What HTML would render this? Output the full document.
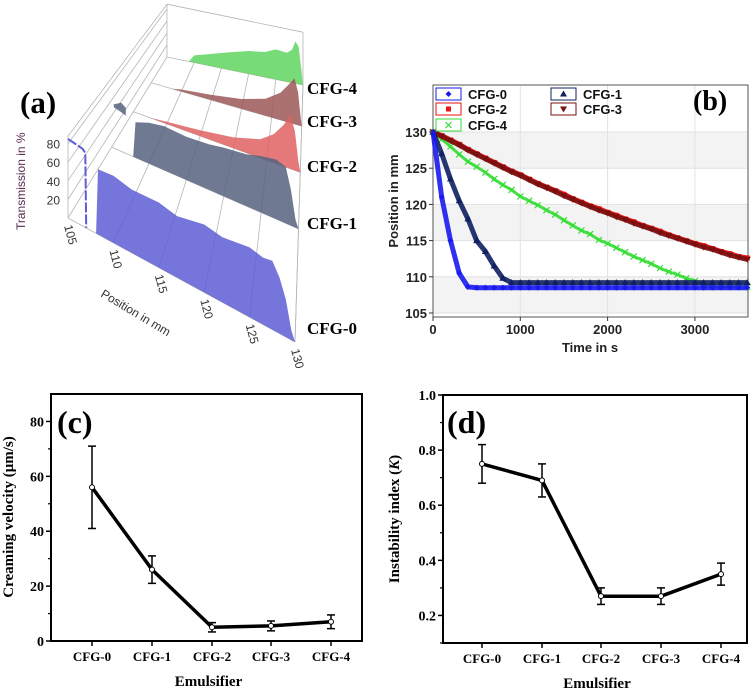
<!DOCTYPE html>
<html><head><meta charset="utf-8"><style>
html,body{margin:0;padding:0;background:#fff;}
svg{display:block;}
.serif{font-family:"Liberation Serif",serif;font-weight:bold;}
.sans{font-family:"Liberation Sans",sans-serif;font-weight:bold;}
</style></head><body>
<svg id="fig" width="756" height="691" viewBox="0 0 756 691" xmlns="http://www.w3.org/2000/svg">
<g id="pa"></g>
<g id="pb"></g>
<g id="pc"></g>
<g id="pd"></g>
</svg>
<script>
// ---------- Panel (b) data ----------
var bTimes=[0,100,200,300,400,500,600,700,800,900,1000,1100,1200,1300,1400,1500,1600,1700,1800,1900,2000,2100,2200,2300,2400,2500,2600,2700,2800,2900,3000,3100,3200,3300,3400,3500,3600];
var bCFG0=[130,121,115,110.5,108.6,108.5,108.5,108.5,108.5,108.5,108.5,108.5,108.5,108.5,108.5,108.5,108.5,108.5,108.5,108.5,108.5,108.5,108.5,108.5,108.5,108.5,108.5,108.5,108.5,108.5,108.5,108.5,108.5,108.5,108.5,108.5,108.5];
var bCFG1=[130,127,123.5,120.5,118,115,113.5,111.5,109.8,109.2,109.2,109.2,109.2,109.2,109.2,109.2,109.2,109.2,109.2,109.2,109.2,109.2,109.2,109.2,109.2,109.2,109.2,109.2,109.2,109.2,109.2,109.2,109.2,109.2,109.2,109.2,109.2];
var bCFG2=[130,129.5,128.9,128.3,127.6,127,126.4,125.8,125.2,124.6,124.1,123.5,122.9,122.4,121.9,121.4,120.8,120.3,119.8,119.4,118.9,118.5,118,117.6,117.1,116.7,116.3,115.8,115.4,115,114.6,114.3,113.9,113.5,113.2,112.8,112.6];
var bCFG3=[130,129.4,128.8,128.2,127.5,126.9,126.3,125.7,125.1,124.5,124,123.4,122.8,122.3,121.8,121.2,120.7,120.2,119.7,119.2,118.8,118.3,117.9,117.4,117,116.6,116.1,115.7,115.3,114.9,114.5,114.1,113.8,113.4,113,112.7,112.4];
var bCFG4=[130,129,128,126.9,125.9,125.2,124.4,123.5,122.7,122,121.1,120.5,119.9,119.2,118.6,117.8,117.1,116.4,115.9,115.1,114.6,114,113.4,112.8,112.3,111.8,111.2,110.7,110.3,109.8,109.4,109,108.6,108.6,108.6,108.6,108.6];
var bYTicks=[105,110,115,120,125,130];
var bXTicks=[0,1000,2000,3000];
// ---------- Panel (c)/(d) data ----------
var categories=["CFG-0","CFG-1","CFG-2","CFG-3","CFG-4"];
var cVel=[56,26,5,5.5,7];
var cErr=[15,5,1.7,1.8,2.5];
var cYTicks=[0,20,40,60,80];
var dIdx=[0.75,0.69,0.27,0.27,0.35];
var dErr=[0.07,0.06,0.03,0.03,0.04];
var dYTicks=[0.2,0.4,0.6,0.8,1.0];
// ---------- Panel (a) data ----------
var aPos0=[108.1,108.3,110,112,115,117,120,122,125,126.5,127.5,128.3,129,129.6,130];
var aT0=[0,70,72,68,70,66,73,70,75,72,74,60,40,10,0];
var aEarlyPos0=[105,106.6,106.9,107.0];
var aEarlyT0=[85,83,80,0];
var aPos1=[107.9,108.2,110,112,115,118,120,123,125,127,128.3,129,129.6,130];
var aT1=[0,45,52,56,55,58,62,66,72,76,72,45,10,0];
var aEarlyPos1=[105.3,106.3,106.9];
var aEarlyLow1=[52,50,48];
var aEarlyHigh1=[56,62,58];
var aPos2=[107.5,110,115,120,124,126,127.5,128.5,129.2,129.7,130];
var aT2=[0,3,8,15,26,40,58,75,55,15,0];
var aPos3=[108.5,110,115,120,124,126.5,128,128.8,129.4,129.8,130];
var aT3=[0,3,8,15,26,42,60,70,50,15,0];
var aPos4=[109,110,113,116,120,123,125,127,128,128.6,129.2,129.7,130];
var aT4=[0,12,20,28,38,42,50,48,55,70,62,25,0];
var aDepth=[0,0.44,0.66,0.84,1];
var aPosTicks=[105,110,115,120,125,130];
var aTrTicks=[20,40,60,80];

var NS="http://www.w3.org/2000/svg";
function mk(parent,tag,attrs,name,txt){var e=document.createElementNS(NS,tag);for(var k in attrs)e.setAttribute(k,attrs[k]);


if(txt!==undefined)e.textContent=txt;parent.appendChild(e);return e;}

// ================= Panel (a) =================
(function(){
var g=document.getElementById('pa');
function P(pos,t,h){var u=(pos-105)/25;var lx=68+99*t,ly=218-161*t,rx=295+8*t,ry=342-257*t;
var s=0.93*(1-t)+0.6*t;return [lx+(rx-lx)*u,ly+(ry-ly)*u-h*s];}
function L(a,b,name){mk(g,'line',{x1:a[0],y1:a[1],x2:b[0],y2:b[1],stroke:'#b5b5b5','stroke-width':0.8},name);}
function ptsStr(pts){return pts.map(function(p){return p[0].toFixed(1)+','+p[1].toFixed(1);}).join(' ');}
for(var i=0;i<aPosTicks.length;i++)L(P(aPosTicks[i],0,0),P(aPosTicks[i],1,0),'floor-grid-line');
L(P(105,0,0),P(105,0,88),'left-wall-edge');
for(i=0;i<aTrTicks.length;i++)L(P(105,0,aTrTicks[i]),P(105,1,aTrTicks[i]),'left-wall-grid');
L(P(105,0,88),P(105,1,88),'left-wall-top');
L(P(105,1,0),P(105,1,88),'back-wall-edge');
L(P(105,1,88),P(130,1,88),'back-wall-top');
L(P(130,1,0),P(130,1,88),'back-right-edge');
for(i=0;i<aDepth.length;i++)L(P(105,aDepth[i],0),P(130,aDepth[i],0),'baseline');
L(P(130,0,0),P(130,1,0),'right-floor-edge');
var ser=[[aPos4,aT4,'#5fd65f','CFG-4'],[aPos3,aT3,'#9c5757','CFG-3'],[aPos2,aT2,'#e06262','CFG-2'],[aPos1,aT1,'#56627e','CFG-1'],[aPos0,aT0,'#5d5dd6','CFG-0']];
var depths=[aDepth[4],aDepth[3],aDepth[2],aDepth[1],aDepth[0]];
for(var s=0;s<ser.length;s++){var ps=ser[s][0],ts=ser[s][1],t=depths[s];
var pts=[P(ps[0],t,0)];for(var k=0;k<ps.length;k++)pts.push(P(ps[k],t,ts[k]));pts.push(P(ps[ps.length-1],t,0));
mk(g,'polygon',{points:ptsStr(pts),fill:ser[s][2],'fill-opacity':0.85},'transmission-profile-'+ser[s][3].toLowerCase());}
// early fragments
var e1=[];for(k=0;k<aEarlyPos1.length;k++)e1.push(P(aEarlyPos1[k],aDepth[1],aEarlyHigh1[k]));
for(k=aEarlyPos1.length-1;k>=0;k--)e1.push(P(aEarlyPos1[k],aDepth[1],aEarlyLow1[k]));
mk(g,'polygon',{points:ptsStr(e1),fill:'#56627e','fill-opacity':0.85},'early-fragment-cfg-1');
var e0=[];for(k=0;k<aEarlyPos0.length;k++)e0.push(P(aEarlyPos0[k],0,aEarlyT0[k]));
mk(g,'polyline',{points:ptsStr(e0),fill:'none',stroke:'#5d5dd6','stroke-width':2,'stroke-dasharray':'10 2'},'early-fragment-cfg-0');
// tick labels
for(i=0;i<aTrTicks.length;i++){var p=P(105,0,aTrTicks[i]);mk(g,'text',{x:p[0]-8,y:p[1]+5,'text-anchor':'end','font-size':12,fill:'#333','font-family':'Liberation Sans,sans-serif'},'transmission-tick-label',String(aTrTicks[i]));}
for(i=0;i<aPosTicks.length;i++){var p=P(aPosTicks[i],0,0);var x=p[0]-4,y=p[1]+8;
mk(g,'text',{x:x,y:y,transform:'rotate(75 '+x+' '+y+')','font-size':12,fill:'#333','font-family':'Liberation Sans,sans-serif'},'position-tick-label',String(aPosTicks[i]));}
mk(g,'text',{x:100,y:296,transform:'rotate(31 100 296)','font-size':12,fill:'#333','font-family':'Liberation Sans,sans-serif'},'position-axis-title','Position in mm');
mk(g,'text',{x:25,y:230,transform:'rotate(-90 25 230)','font-size':12,fill:'#5a2a50','font-family':'Liberation Sans,sans-serif'},'transmission-axis-title','Transmission in %');
var lab=[['CFG-4',94],['CFG-3',127],['CFG-2',172],['CFG-1',229],['CFG-0',334]];
for(i=0;i<lab.length;i++)mk(g,'text',{x:307,y:lab[i][1],'font-size':17,class:'serif'},'series-label-'+lab[i][0].toLowerCase(),lab[i][0]);
mk(g,'text',{x:20,y:113,'font-size':31,class:'serif'},'panel-label-a','(a)');
})();

// ================= Panel (b) =================
(function(){
var g=document.getElementById('pb');
var X0=433,X1=748,Y0=85,Y1=317;
function xs(t){return X0+t*0.0873;} function ys(v){return 132+(130-v)*7.24;}
mk(g,'rect',{x:X0,y:Y0,width:X1-X0,height:Y1-Y0,fill:'#fff'},'plot-area');
var bands=[[125,130],[115,120],[105,110]];
for(var i=0;i<bands.length;i++)mk(g,'rect',{x:X0,y:ys(bands[i][1]),width:X1-X0,height:ys(bands[i][0])-ys(bands[i][1]),fill:'#f3f3f3'},'background-band');
for(i=0;i<bYTicks.length;i++)mk(g,'line',{x1:X0,x2:X1,y1:ys(bYTicks[i]),y2:ys(bYTicks[i]),stroke:'#e2e2e2'},'y-gridline');
for(i=1;i<bXTicks.length;i++)mk(g,'line',{x1:xs(bXTicks[i]),x2:xs(bXTicks[i]),y1:Y0,y2:Y1,stroke:'#e2e2e2'},'x-gridline');
mk(g,'rect',{x:X0,y:Y0,width:X1-X0,height:Y1-Y0,fill:'none',stroke:'#555','stroke-width':1},'plot-frame');
function marker(type,x,y,c){
 if(type==='d')return mk(g,'path',{d:'M'+x+' '+(y-3)+'L'+(x+3)+' '+y+'L'+x+' '+(y+3)+'L'+(x-3)+' '+y+'Z',fill:c},'marker');
 if(type==='s')return mk(g,'rect',{x:x-2.5,y:y-2.5,width:5,height:5,fill:c},'marker');
 if(type==='t')return mk(g,'path',{d:'M'+x+' '+(y-3.5)+'L'+(x+3.5)+' '+(y+2.5)+'L'+(x-3.5)+' '+(y+2.5)+'Z',fill:c},'marker');
 if(type==='v')return mk(g,'path',{d:'M'+x+' '+(y+3.5)+'L'+(x+3.5)+' '+(y-2.5)+'L'+(x-3.5)+' '+(y-2.5)+'Z',fill:c},'marker');
 return mk(g,'path',{d:'M'+(x-3)+' '+(y-3)+'L'+(x+3)+' '+(y+3)+'M'+(x+3)+' '+(y-3)+'L'+(x-3)+' '+(y+3),stroke:c,'stroke-width':1.2,fill:'none'},'marker');
}
var series=[[bCFG4,'#33dd33','x','cfg-4'],[bCFG2,'#ee1111','s','cfg-2'],[bCFG3,'#7a0f0f','v','cfg-3'],[bCFG1,'#102060','t','cfg-1'],[bCFG0,'#1a1aee','d','cfg-0']];
for(var s=0;s<series.length;s++){var v=series[s][0],pts=[];
 for(var k=0;k<bTimes.length;k++)pts.push(xs(bTimes[k]).toFixed(1)+','+ys(v[k]).toFixed(1));
 mk(g,'polyline',{points:pts.join(' '),fill:'none',stroke:series[s][1],'stroke-width':series[s][2]==='x'?3:5,'stroke-opacity':0.9},'series-line-'+series[s][3]);
 for(k=0;k<bTimes.length;k++)marker(series[s][2],xs(bTimes[k]),ys(v[k]),series[s][1]);}
for(i=0;i<bYTicks.length;i++){var y=ys(bYTicks[i]);mk(g,'line',{x1:X0-4,x2:X0,y1:y,y2:y,stroke:'#333'},'y-tick');
 mk(g,'text',{x:X0-6,y:y+5,'text-anchor':'end','font-size':13,class:'sans',fill:'#222'},'y-tick-label',String(bYTicks[i]));}
for(i=0;i<bXTicks.length;i++){var x=xs(bXTicks[i]);mk(g,'line',{x1:x,x2:x,y1:Y1,y2:Y1+4,stroke:'#333'},'x-tick');
 mk(g,'text',{x:x,y:Y1+17,'text-anchor':'middle','font-size':13,class:'sans',fill:'#222'},'x-tick-label',String(bXTicks[i]));}
mk(g,'text',{x:590,y:352,'text-anchor':'middle','font-size':13,class:'sans',fill:'#222'},'x-axis-title','Time in s');
mk(g,'text',{x:398,y:201,'text-anchor':'middle','font-size':13,class:'sans',fill:'#222',transform:'rotate(-90 398 201)'},'y-axis-title','Position in mm');
var leg=[['CFG-0','#1a1aee','d',436,94],['CFG-1','#102060','t',551,94],['CFG-2','#ee1111','s',436,109],['CFG-3','#7a0f0f','v',551,109],['CFG-4','#33dd33','x',436,125]];
for(i=0;i<leg.length;i++){var L=leg[i];
 mk(g,'rect',{x:L[3],y:L[4]-6,width:25,height:12,fill:'#fff',stroke:L[1],'stroke-width':1},'legend-swatch-'+L[0].toLowerCase());
 marker(L[2],L[3]+12.5,L[4],L[1]);
 mk(g,'text',{x:L[3]+32,y:L[4]+5,'font-size':13,class:'sans',fill:'#111'},'legend-label-'+L[0].toLowerCase(),L[0]);}
mk(g,'text',{x:693,y:110,'font-size':28,class:'serif'},'panel-label-b','(b)');
})();

// ================= Panels (c) and (d) =================
function linePanel(gid,X0,X1,Y0,Y1,ymin,ymax,cx,vals,errs,ticks,minor,fmt){
 var g=document.getElementById(gid);
 function ys(v){return Y1-(v-ymin)/(ymax-ymin)*(Y1-Y0);}
 mk(g,'rect',{x:X0,y:Y0,width:X1-X0,height:Y1-Y0,fill:'none',stroke:'#000','stroke-width':2},'plot-frame');
 for(var i=0;i<ticks.length;i++){var y=ys(ticks[i]);mk(g,'line',{x1:X0-5,x2:X0,y1:y,y2:y,stroke:'#000','stroke-width':1.5},'y-tick');
  mk(g,'text',{x:X0-7,y:y+5,'text-anchor':'end','font-size':14,class:'serif'},'y-tick-label',fmt(ticks[i]));}
 for(i=0;i<minor.length;i++){var y=ys(minor[i]);mk(g,'line',{x1:X0-3,x2:X0,y1:y,y2:y,stroke:'#000','stroke-width':1.2},'y-minor-tick');}
 var pts=[];
 for(i=0;i<categories.length;i++){var x=cx[i];
  mk(g,'line',{x1:x,x2:x,y1:Y1,y2:Y1+5,stroke:'#000','stroke-width':1.5},'x-tick');
  mk(g,'text',{x:x,y:Y1+20,'text-anchor':'middle','font-size':13,class:'serif'},'x-tick-label',categories[i]);
  pts.push(x+','+ys(vals[i]).toFixed(1));}
 mk(g,'polyline',{points:pts.join(' '),fill:'none',stroke:'#000','stroke-width':3.5,'stroke-linejoin':'round'},'data-line');
 for(i=0;i<categories.length;i++){var x=cx[i],yt=ys(vals[i]+errs[i]),yb=ys(vals[i]-errs[i]);
  mk(g,'line',{x1:x,x2:x,y1:yt,y2:yb,stroke:'#000','stroke-width':1.5},'error-bar');
  mk(g,'line',{x1:x-4,x2:x+4,y1:yt,y2:yt,stroke:'#000','stroke-width':1.5},'error-cap');
  mk(g,'line',{x1:x-4,x2:x+4,y1:yb,y2:yb,stroke:'#000','stroke-width':1.5},'error-cap');
  mk(g,'circle',{cx:x,cy:ys(vals[i]),r:2.5,fill:'#fff',stroke:'#000','stroke-width':1},'data-point');}
 mk(g,'text',{x:(X0+X1)/2+2,y:Y1+45,'text-anchor':'middle','font-size':15,class:'serif'},'x-axis-title','Emulsifier');
 return g;
}
var gc=linePanel('pc',51,362,394,641,0,90,[92,152,212,271,331],cVel,cErr,cYTicks,[10,30,50,70],function(v){return String(v);});
mk(gc,'text',{x:13,y:517,'text-anchor':'middle','font-size':15,class:'serif',transform:'rotate(-90 13 517)'},'y-axis-title','Creaming velocity (\u03BCm/s)');
mk(gc,'text',{x:57,y:433,'font-size':32,class:'serif'},'panel-label-c','(c)');
var gd=linePanel('pd',443,747,395,643,0.1,1.0,[482,542,601,661,721],dIdx,dErr,dYTicks,[0.1,0.3,0.5,0.7,0.9],function(v){return v.toFixed(1);});
var td=mk(gd,'text',{x:399,y:519,'text-anchor':'middle','font-size':15,class:'serif',transform:'rotate(-90 399 519)'},'y-axis-title','');
td.innerHTML='Instability index (<tspan font-style="italic">K</tspan>)';
mk(gd,'text',{x:447,y:433,'font-size':32,class:'serif'},'panel-label-d','(d)');
</script>
</body></html>
